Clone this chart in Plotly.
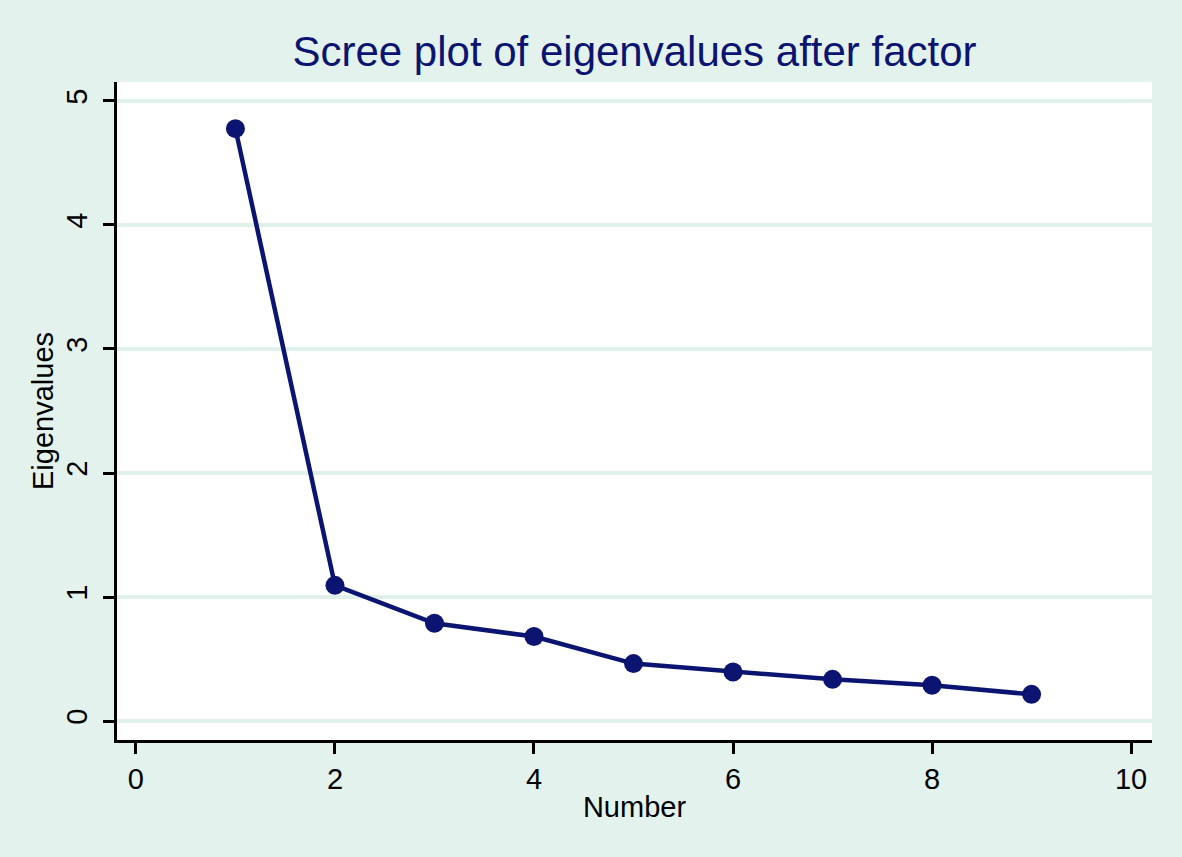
import plotly.graph_objects as go

factor_number = [1, 2, 3, 4, 5, 6, 7, 8, 9]
eigenvalues = [4.777, 1.094, 0.788, 0.681, 0.463, 0.395, 0.336, 0.288, 0.215]
x_ticks = [0, 2, 4, 6, 8, 10]
y_ticks = [0, 1, 2, 3, 4, 5]

navy = "#0b1470"
bg = "#e3f2ed"
grid = "#e0f1ec"
font_family = "Liberation Sans, Arial, sans-serif"

fig = go.Figure()
fig.add_trace(go.Scatter(
    x=factor_number, y=eigenvalues, mode="lines+markers",
    line=dict(color=navy, width=4.5),
    marker=dict(color=navy, size=19),
    showlegend=False,
))

fig.update_layout(
    width=1182, height=857,
    paper_bgcolor=bg, plot_bgcolor="white",
    margin=dict(l=117, r=30, t=82, b=117),
    font=dict(family=font_family, color="black", size=29),
    title=dict(text="Scree plot of eigenvalues after factor",
               font=dict(size=42, color=navy, family=font_family),
               xref="paper", x=0.5, xanchor="center", y=0.94, yanchor="middle"),
)
fig.update_xaxes(
    range=[-0.19, 10.21], tickvals=x_ticks, ticktext=[str(v) for v in x_ticks],
    showgrid=False, zeroline=False,
    showline=True, linecolor="black", linewidth=3,
    ticks="outside", ticklen=11, tickwidth=3, tickcolor="black",
    ticklabelstandoff=0,
    tickfont=dict(size=29),
    title=dict(text="Number", font=dict(size=29), standoff=3),
)
fig.update_yaxes(
    range=[-0.153, 5.153], tickvals=y_ticks, ticktext=[str(v) for v in y_ticks],
    showgrid=True, gridcolor=grid, gridwidth=4, zeroline=False,
    showline=True, linecolor="black", linewidth=3,
    ticks="outside", ticklen=11, tickwidth=3, tickcolor="black",
    tickangle=-90, ticklabelstandoff=4,
    tickfont=dict(size=29),
    title=dict(text="Eigenvalues", font=dict(size=29), standoff=0),
)

fig.write_html(
    "out.html",
    config={"displayModeBar": False},
    post_script="document.body.style.margin='0';document.body.style.background='#e3f2ed';",
)
